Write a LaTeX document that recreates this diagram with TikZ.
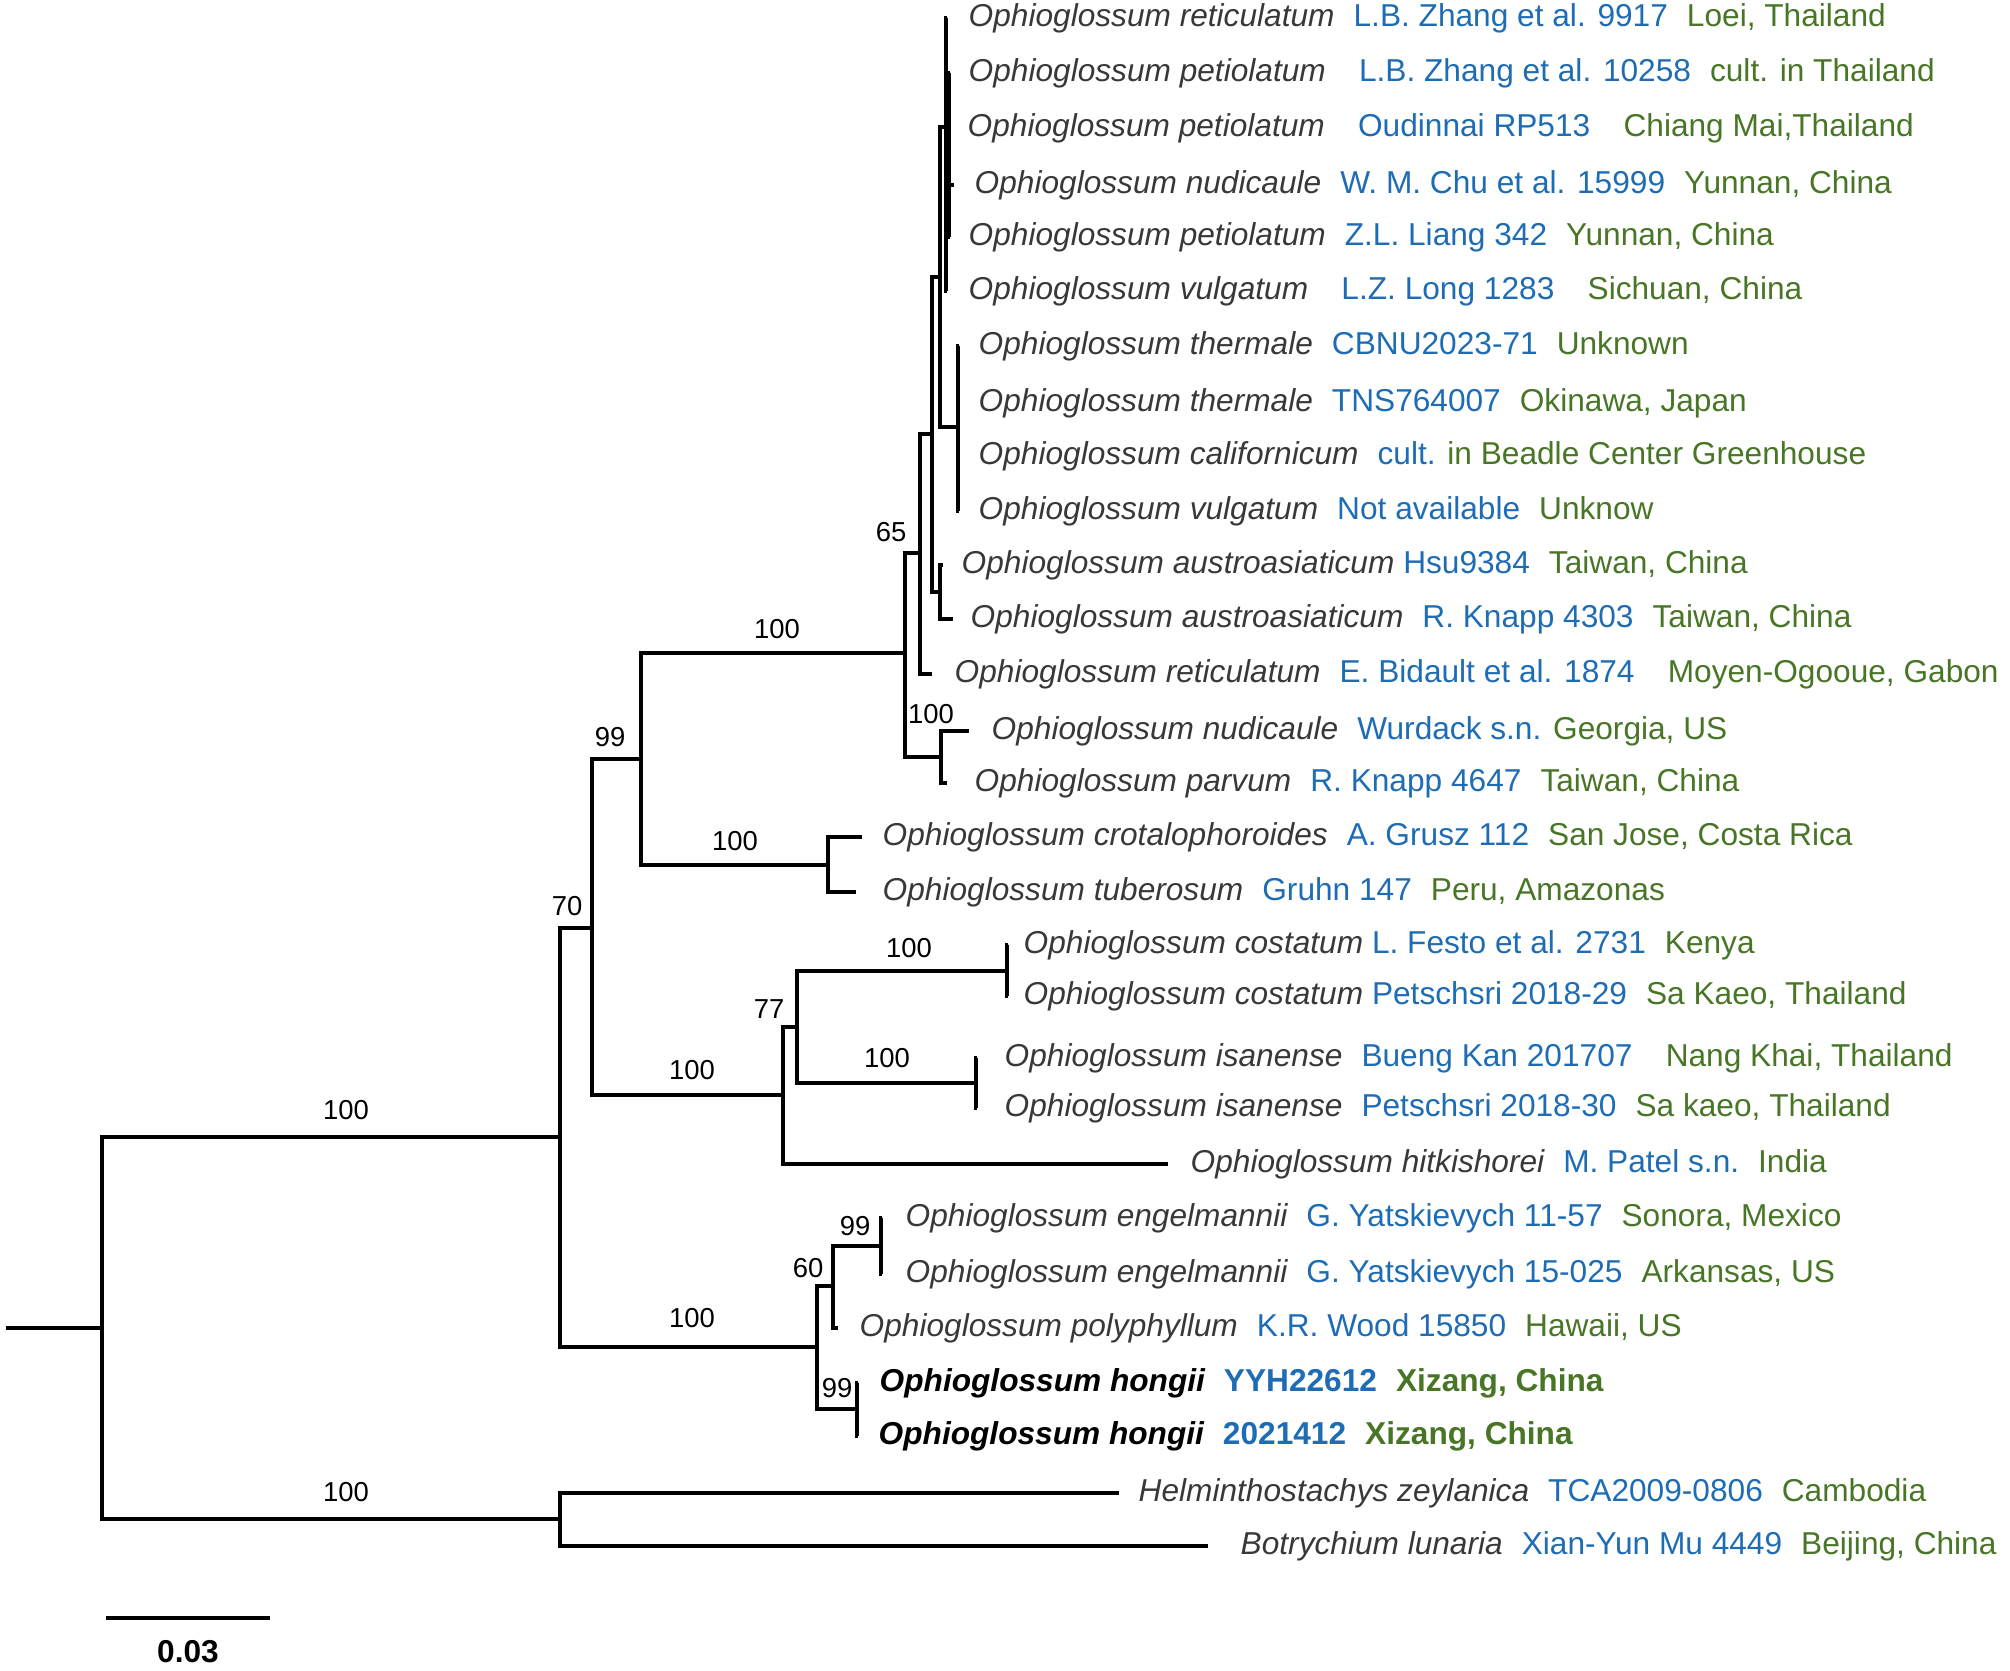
\documentclass[tikz,border=0pt]{standalone}
\usepackage{fontspec}
\setmainfont{Liberation Sans}
\usetikzlibrary{positioning}
\definecolor{vouchblue}{RGB}{30,108,180}
\definecolor{placegreen}{RGB}{72,118,38}
\colorlet{spgrey}{black!78}

% parts of a tip label
\newcommand{\spn}[1]{{\color{spgrey}\itshape #1}}
\newcommand{\vch}[1]{{\color{vouchblue}#1}}
\newcommand{\plc}[1]{{\color{placegreen}#1}}
\newcommand{\gp}{\hspace{0.6em}}
\newcommand{\gq}{\hspace{1.05em}}

\begin{document}
\begin{tikzpicture}[x=0.01cm, y=-0.01cm,
  branch/.style={line width=0.9pt, black},
  leaf/.style={anchor=west, inner sep=0pt, font=\fontsize{9}{11}\selectfont},
  boot/.style={inner sep=0pt, font=\fontsize{7.8}{9}\selectfont},
  newsp/.style={leaf, font=\fontsize{9}{11}\selectfont\bfseries}]

\useasboundingbox (0,0) rectangle (2010,1671);

% --- Internal nodes ---
\coordinate (rootstub) at (6,1328);
\coordinate (root)   at (102,1328);
\coordinate (n70)    at (560,1137);
\coordinate (nout)   at (560,1519);
\coordinate (n99)    at (592,928);
\coordinate (nsplit) at (641,759);
\coordinate (nupper) at (905,653);
\coordinate (ncrot)  at (828,865);
\coordinate (n65)    at (920,553);
\coordinate (nmid)   at (932,434);
\coordinate (naus)   at (940,592);
\coordinate (nthr)   at (940,277);
\coordinate (nther)  at (958,427);
\coordinate (nvul)   at (946,127);
\coordinate (npet)   at (949,155);
\coordinate (nnud)   at (941,757);
\coordinate (nlow)   at (783,1095);
\coordinate (n77)    at (797,1027);
\coordinate (ncost)  at (1007,971);
\coordinate (nisan)  at (976,1083);
\coordinate (nhongc) at (817,1347);
\coordinate (n60)    at (833,1286);
\coordinate (n99e)   at (881,1246);
\coordinate (n99h)   at (857,1409);

% --- Tips ---
\coordinate (t1)  at (947,18);
\coordinate (t2)  at (950,73);
\coordinate (t3)  at (950,128);
\coordinate (t4)  at (954,185);
\coordinate (t5)  at (950,237);
\coordinate (t6)  at (947,291);
\coordinate (t7)  at (959,346);
\coordinate (t8)  at (959,403);
\coordinate (t9)  at (959,456);
\coordinate (t10) at (959,511);
\coordinate (t11) at (943,565);
\coordinate (t12) at (953,619);
\coordinate (t13) at (932,674);
\coordinate (t14) at (969,731);
\coordinate (t15) at (947,783);
\coordinate (t16) at (862,837);
\coordinate (t17) at (856,892);
\coordinate (t18) at (1008,945);
\coordinate (t19) at (1008,996);
\coordinate (t20) at (977,1058);
\coordinate (t21) at (977,1108);
\coordinate (t22) at (1168,1164);
\coordinate (t23) at (882,1218);
\coordinate (t24) at (882,1274);
\coordinate (t25) at (838,1328);
\coordinate (t26) at (858,1383);
\coordinate (t27) at (858,1436);
\coordinate (t28) at (1119,1493);
\coordinate (t29) at (1208,1546);

% --- Branches (parent |- child) ---
\draw[branch] (rootstub) -- (root);
\foreach \p/\c in {root/n70, root/nout, nout/t28, nout/t29,
    n70/n99, n70/nhongc, n99/nsplit, n99/nlow,
    nsplit/nupper, nsplit/ncrot, ncrot/t16, ncrot/t17,
    nupper/n65, nupper/nnud, nnud/t14, nnud/t15,
    n65/nmid, n65/t13, nmid/nthr, nmid/naus, naus/t11, naus/t12,
    nthr/nvul, nthr/nther, nther/t7, nther/t8, nther/t9, nther/t10,
    nvul/t1, nvul/npet, nvul/t6, npet/t2, npet/t3, npet/t4, npet/t5,
    nlow/n77, nlow/t22, n77/ncost, n77/nisan,
    ncost/t18, ncost/t19, nisan/t20, nisan/t21,
    nhongc/n60, nhongc/n99h, n60/n99e, n60/t25,
    n99e/t23, n99e/t24, n99h/t26, n99h/t27}
  \draw[branch] (\p) |- (\c);

% --- Bootstrap values ---
\node[boot] (bs1)  at (346,1110) {100};
\node[boot] (bs2)  at (346,1492) {100};
\node[boot] (bs3)  at (567,906)  {70};
\node[boot] (bs4)  at (610,737)  {99};
\node[boot] (bs5)  at (777,629)  {100};
\node[boot] (bs6)  at (735,841)  {100};
\node[boot] (bs7)  at (891,532)  {65};
\node[boot] (bs8)  at (931,714)  {100};
\node[boot] (bs9)  at (692,1070) {100};
\node[boot] (bs10) at (769,1009) {77};
\node[boot] (bs11) at (909,948)  {100};
\node[boot] (bs12) at (887,1058) {100};
\node[boot] (bs13) at (692,1318) {100};
\node[boot] (bs14) at (808,1268) {60};
\node[boot] (bs15) at (855,1226) {99};
\node[boot] (bs16) at (837,1388) {99};

% --- Tip labels ---
\node[leaf] (l1)  at (968,18)   {\spn{Ophioglossum reticulatum}\gp\vch{L.B. Zhang et al. 9917}\gp\plc{Loei, Thailand}};
\node[leaf] (l2)  at (968,73)   {\spn{Ophioglossum petiolatum}\gq\vch{L.B. Zhang et al. 10258}\gp\plc{cult. in Thailand}};
\node[leaf] (l3)  at (967,128)  {\spn{Ophioglossum petiolatum}\gq\vch{Oudinnai RP513}\gq\plc{Chiang Mai,Thailand}};
\node[leaf] (l4)  at (974,185)  {\spn{Ophioglossum nudicaule}\gp\vch{W. M. Chu et al. 15999}\gp\plc{Yunnan, China}};
\node[leaf] (l5)  at (968,237)  {\spn{Ophioglossum petiolatum}\gp\vch{Z.L. Liang 342}\gp\plc{Yunnan, China}};
\node[leaf] (l6)  at (968,291)  {\spn{Ophioglossum vulgatum}\gq\vch{L.Z. Long 1283}\gq\plc{Sichuan, China}};
\node[leaf] (l7)  at (978,346)  {\spn{Ophioglossum thermale}\gp\vch{CBNU2023-71}\gp\plc{Unknown}};
\node[leaf] (l8)  at (978,403)  {\spn{Ophioglossum thermale}\gp\vch{TNS764007}\gp\plc{Okinawa, Japan}};
\node[leaf] (l9)  at (978,456)  {\spn{Ophioglossum californicum}\gp\vch{cult.} \plc{in Beadle Center Greenhouse}};
\node[leaf] (l10) at (978,511)  {\spn{Ophioglossum vulgatum}\gp\vch{Not available}\gp\plc{Unknow}};
\node[leaf] (l11) at (961,565)  {\spn{Ophioglossum austroasiaticum} \vch{Hsu9384}\gp\plc{Taiwan, China}};
\node[leaf] (l12) at (970,619)  {\spn{Ophioglossum austroasiaticum}\gp\vch{R. Knapp 4303}\gp\plc{Taiwan, China}};
\node[leaf] (l13) at (954,674)  {\spn{Ophioglossum reticulatum}\gp\vch{E. Bidault et al. 1874}\gq\plc{Moyen-Ogooue, Gabon}};
\node[leaf] (l14) at (991,731)  {\spn{Ophioglossum nudicaule}\gp\vch{Wurdack s.n.} \plc{Georgia, US}};
\node[leaf] (l15) at (974,783)  {\spn{Ophioglossum parvum}\gp\vch{R. Knapp 4647}\gp\plc{Taiwan, China}};
\node[leaf] (l16) at (882,837)  {\spn{Ophioglossum crotalophoroides}\gp\vch{A. Grusz 112}\gp\plc{San Jose, Costa Rica}};
\node[leaf] (l17) at (882,892)  {\spn{Ophioglossum tuberosum}\gp\vch{Gruhn 147}\gp\plc{Peru, Amazonas}};
\node[leaf] (l18) at (1023,945) {\spn{Ophioglossum costatum} \vch{L. Festo et al. 2731}\gp\plc{Kenya}};
\node[leaf] (l19) at (1023,996) {\spn{Ophioglossum costatum} \vch{Petschsri 2018-29}\gp\plc{Sa Kaeo, Thailand}};
\node[leaf] (l20) at (1004,1058) {\spn{Ophioglossum isanense}\gp\vch{Bueng Kan 201707}\gq\plc{Nang Khai, Thailand}};
\node[leaf] (l21) at (1004,1108) {\spn{Ophioglossum isanense}\gp\vch{Petschsri 2018-30}\gp\plc{Sa kaeo, Thailand}};
\node[leaf] (l22) at (1190,1164) {\spn{Ophioglossum hitkishorei}\gp\vch{M. Patel s.n.}\gp\plc{India}};
\node[leaf] (l23) at (905,1218) {\spn{Ophioglossum engelmannii}\gp\vch{G. Yatskievych 11-57}\gp\plc{Sonora, Mexico}};
\node[leaf] (l24) at (905,1274) {\spn{Ophioglossum engelmannii}\gp\vch{G. Yatskievych 15-025}\gp\plc{Arkansas, US}};
\node[leaf] (l25) at (859,1328) {\spn{Ophioglossum polyphyllum}\gp\vch{K.R. Wood 15850}\gp\plc{Hawaii, US}};
\node[newsp] (l26) at (879,1383) {{\itshape Ophioglossum hongii}\gp\vch{YYH22612}\gp\plc{Xizang, China}};
\node[newsp] (l27) at (878,1436) {{\itshape Ophioglossum hongii}\gp\vch{2021412}\gp\plc{Xizang, China}};
\node[leaf] (l28) at (1138,1493) {\spn{Helminthostachys zeylanica}\gp\vch{TCA2009-0806}\gp\plc{Cambodia}};
\node[leaf] (l29) at (1240,1546) {\spn{Botrychium lunaria}\gp\vch{Xian-Yun Mu 4449}\gp\plc{Beijing, China}};

% --- Scale bar ---
\coordinate (sbl) at (106,1618);
\coordinate (sbr) at (270,1618);
\draw[branch] (sbl) -- (sbr);
\node[inner sep=0pt, font=\fontsize{9}{11}\selectfont\bfseries] (sblab) at (188,1652) {0.03};

\end{tikzpicture}
\end{document}
